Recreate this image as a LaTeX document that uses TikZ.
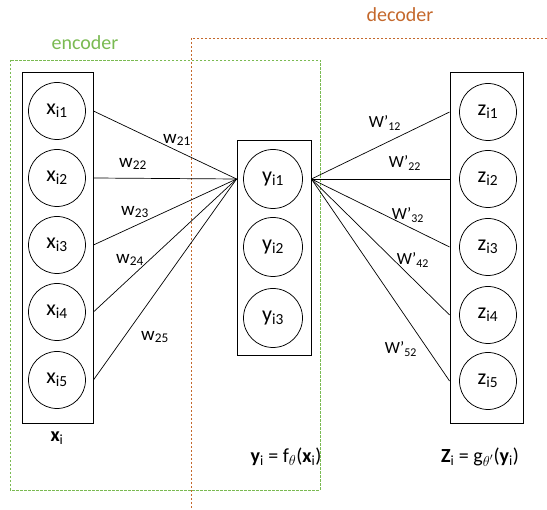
\documentclass[tikz,border=0pt]{standalone}
\usepackage{fontspec}
\setmainfont{Carlito}
\begin{document}
\begin{tikzpicture}[x=1pt,y=-1pt,
  unit/.style={circle,draw,line width=0.75pt,minimum size=57pt,inner sep=0pt,font=\fontsize{22}{24}\selectfont},
  layer/.style={draw,line width=0.85pt,inner sep=0pt},
  wlabel/.style={font=\fontsize{19}{21}\selectfont,inner sep=0pt},
  wplabel/.style={font=\fontsize{17}{19}\selectfont,inner sep=0pt},
  link/.style={line width=0.7pt},
  group/.style={dash pattern=on 2.5pt off 1.5pt,line width=0.7pt},
  caption/.style={font=\fontsize{20}{22}\selectfont,inner sep=0pt}]
\definecolor{enccol}{RGB}{122,186,82}
\definecolor{deccol}{RGB}{196,104,44}
\useasboundingbox (0,0) rectangle (547,510);

% encoder / decoder regions
\draw[group,enccol] (10,60) rectangle (320,490);
\draw[group,deccol] (547,38) -- (191,38) -- (191,510);
\node[font=\fontsize{20}{22}\selectfont,text=enccol] (enc) at (85,43) {encoder};
\node[font=\fontsize{20}{22}\selectfont,text=deccol] (dec) at (400,15) {decoder};

% layer boxes
\node[layer,minimum width=71pt,minimum height=351pt] (xbox) at (57.5,247.5) {};
\node[layer,minimum width=74pt,minimum height=215pt] (ybox) at (274,247.5) {};
\node[layer,minimum width=73pt,minimum height=351pt] (zbox) at (486.5,247.5) {};

% input units
\node[unit] (x1) at (57,111) {x\textsubscript{i1}};
\node[unit] (x2) at (57,178) {x\textsubscript{i2}};
\node[unit] (x3) at (57,245) {x\textsubscript{i3}};
\node[unit] (x4) at (57,312) {x\textsubscript{i4}};
\node[unit] (x5) at (57,380) {x\textsubscript{i5}};

% hidden units
\node[unit,minimum size=59pt] (y1) at (273,179) {y\textsubscript{i1}};
\node[unit,minimum size=59pt] (y2) at (273,247) {y\textsubscript{i2}};
\node[unit,minimum size=59pt] (y3) at (273,318) {y\textsubscript{i3}};

% output units
\node[unit] (z1) at (488,112) {z\textsubscript{i1}};
\node[unit] (z2) at (488,179) {z\textsubscript{i2}};
\node[unit] (z3) at (488,247) {z\textsubscript{i3}};
\node[unit] (z4) at (488,315) {z\textsubscript{i4}};
\node[unit] (z5) at (488,381) {z\textsubscript{i5}};

% encoder weights into y_i1
\foreach \i in {1,...,5}
  \draw[link] (xbox.east |- x\i) -- (ybox.west |- y1);
% decoder weights out of y_i1
\foreach \i in {1,...,5}
  \draw[link] (ybox.east |- y1) -- (zbox.west |- z\i);

\node[wlabel] (w21) at (177,140) {w\textsubscript{21}};
\node[wlabel] (w22) at (133,164) {w\textsubscript{22}};
\node[wlabel] (w23) at (135,212) {w\textsubscript{23}};
\node[wlabel] (w24) at (130,260) {w\textsubscript{24}};
\node[wlabel] (w25) at (155,337) {w\textsubscript{25}};

\node[wplabel] (v12) at (385,123) {W’\textsubscript{12}};
\node[wplabel] (v22) at (405,163) {W’\textsubscript{22}};
\node[wplabel] (v32) at (408,215) {W’\textsubscript{32}};
\node[wplabel] (v42) at (413,260) {W’\textsubscript{42}};
\node[wplabel] (v52) at (401,349) {W’\textsubscript{52}};

% layer captions
\node[caption] (cx) at (57,438) {\textbf{x}\textsubscript{i}};
\node[caption] (cy) at (286,457) {\textbf{y}\textsubscript{i} = f\textsubscript{$\theta$}(\textbf{x}\textsubscript{i})};
\node[caption] (cz) at (480,457) {\textbf{Z}\textsubscript{i} = g\textsubscript{$\theta'$}(\textbf{y}\textsubscript{i})};
\end{tikzpicture}
\end{document}
